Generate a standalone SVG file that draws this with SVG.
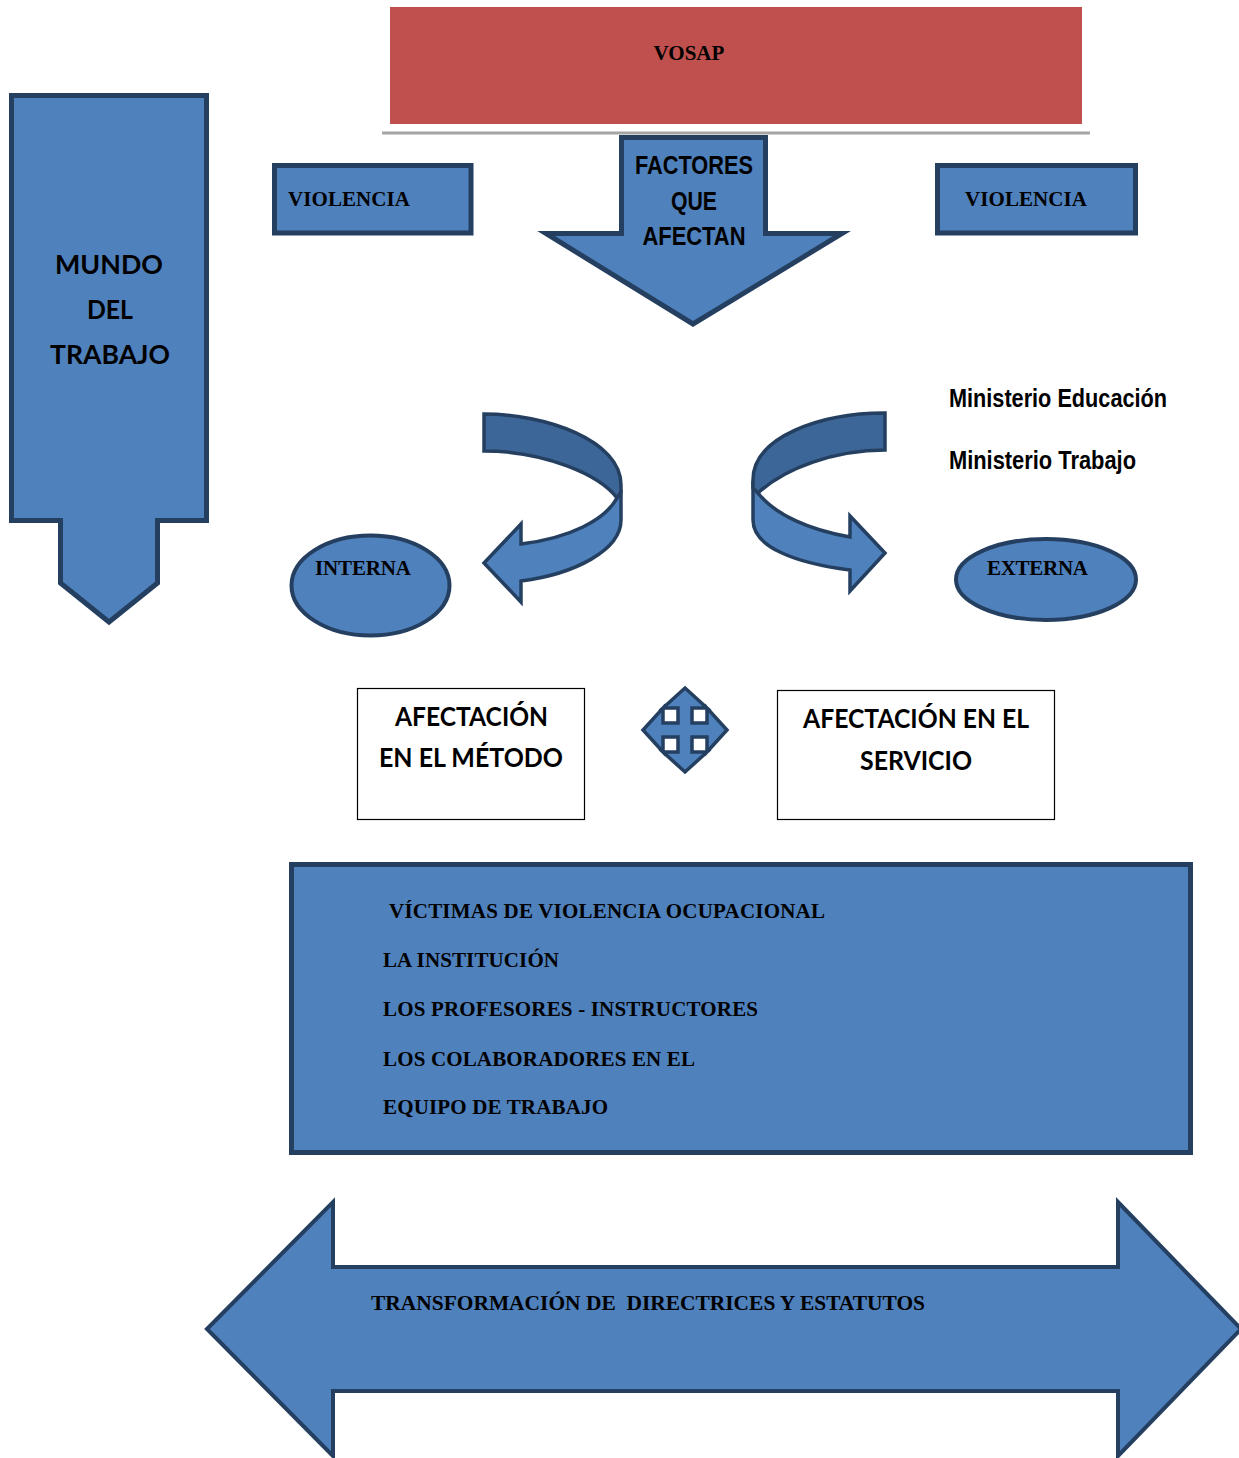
<svg xmlns="http://www.w3.org/2000/svg" width="1239" height="1458" viewBox="0 0 1239 1458">
<style>
.blue{fill:#4F81BD;stroke:#243F60;stroke-width:5;stroke-linejoin:miter}
.thin{stroke-width:4}
.dark{fill:#3D6698;stroke:#243F60;stroke-width:3.5;stroke-linejoin:miter}
.rib{fill:#4F81BD;stroke:#243F60;stroke-width:3.5;stroke-linejoin:miter}
.wbox{fill:#FFFFFF;stroke:#000000;stroke-width:1.2}
.tb{font-family:"Liberation Serif","Times New Roman",serif;font-weight:bold;font-size:21px;fill:#000}
.nar{font-family:"Liberation Sans Narrow","Liberation Sans",Arial,sans-serif;font-stretch:condensed;font-weight:bold;font-size:26px;fill:#000}
.cal{font-family:Lato,"Open Sans","Liberation Sans",sans-serif;font-weight:bold;font-size:26px;fill:#000}
</style>
<rect width="1239" height="1458" fill="#FFFFFF"/>

<g id="vosap">
<rect x="390" y="7" width="692" height="117" fill="#C0504D"/>
<line x1="382" y1="133" x2="1090" y2="133" stroke="#A5A5A5" stroke-width="3"/>
<text class="tb" x="689" y="60" text-anchor="middle">VOSAP</text>
</g>

<g id="mundo-del-trabajo">
<path class="blue" d="M11.5,95.5 L206.5,95.5 L206.5,520.5 L157.5,520.5 L157.5,583 L109,622 L60.5,583 L60.5,520.5 L11.5,520.5 Z"/>
<text class="cal" x="109" y="274" font-size="28" text-anchor="middle" textLength="108" lengthAdjust="spacingAndGlyphs">MUNDO</text>
<text class="cal" x="110" y="319" font-size="28" text-anchor="middle" textLength="46" lengthAdjust="spacingAndGlyphs">DEL</text>
<text class="cal" x="110" y="364" font-size="28" text-anchor="middle" textLength="120" lengthAdjust="spacingAndGlyphs">TRABAJO</text>
</g>

<g id="violencia-left">
<rect class="blue" x="274.5" y="165.5" width="196.5" height="67.5"/>
<text class="tb" x="288" y="206" textLength="122">VIOLENCIA</text>
</g>

<g id="violencia-right">
<rect class="blue" x="937.5" y="165.5" width="198" height="67.5"/>
<text class="tb" x="965" y="206" textLength="122">VIOLENCIA</text>
</g>

<g id="factores">
<path class="blue" d="M621.5,137.5 L765.5,137.5 L765.5,233.5 L842,233.5 L693,324 L546,233.5 L621.5,233.5 Z"/>
<text class="nar" x="694" y="174" text-anchor="middle" textLength="118" lengthAdjust="spacingAndGlyphs">FACTORES</text>
<text class="nar" x="694" y="210" text-anchor="middle" textLength="46" lengthAdjust="spacingAndGlyphs">QUE</text>
<text class="nar" x="694" y="245" text-anchor="middle" textLength="103" lengthAdjust="spacingAndGlyphs">AFECTAN</text>
</g>

<g id="ministerios">
<text class="nar" x="949" y="407" font-size="25" textLength="218" lengthAdjust="spacingAndGlyphs">Ministerio Educación</text>
<text class="nar" x="949" y="469" font-size="25" textLength="187" lengthAdjust="spacingAndGlyphs">Ministerio Trabajo</text>
</g>

<g id="interna">
<ellipse class="blue thin" cx="370.5" cy="585.5" rx="79" ry="50"/>
<text class="tb" x="315" y="575" textLength="96">INTERNA</text>
</g>

<g id="externa">
<ellipse class="blue thin" cx="1046" cy="579.5" rx="90" ry="40.5"/>
<text class="tb" x="987" y="575" textLength="101">EXTERNA</text>
</g>

<g id="afectacion-metodo">
<rect class="wbox" x="357.5" y="688.5" width="227" height="131"/>
<text class="cal" x="471.5" y="726" text-anchor="middle" textLength="153" lengthAdjust="spacingAndGlyphs">AFECTACIÓN</text>
<text class="cal" x="471" y="767" text-anchor="middle" textLength="184" lengthAdjust="spacingAndGlyphs">EN EL MÉTODO</text>
</g>

<g id="afectacion-servicio">
<rect class="wbox" x="777.5" y="690.5" width="277" height="129"/>
<text class="cal" x="916" y="728" text-anchor="middle" textLength="226" lengthAdjust="spacingAndGlyphs">AFECTACIÓN EN EL</text>
<text class="cal" x="916" y="770" text-anchor="middle" textLength="112" lengthAdjust="spacingAndGlyphs">SERVICIO</text>
</g>

<g id="victimas">
<rect class="blue" x="291.5" y="864.5" width="899" height="288"/>
<text class="tb" x="389" y="918" textLength="436">VÍCTIMAS DE VIOLENCIA OCUPACIONAL</text>
<text class="tb" x="383" y="967" textLength="176">LA INSTITUCIÓN</text>
<text class="tb" x="383" y="1016" textLength="375">LOS PROFESORES - INSTRUCTORES</text>
<text class="tb" x="383" y="1066" textLength="312">LOS COLABORADORES EN EL</text>
<text class="tb" x="383" y="1114" textLength="225">EQUIPO DE TRABAJO</text>
</g>

<g id="transformacion">
<path class="blue thin" d="M207,1329 L333,1202 L333,1267 L1118,1267 L1118,1202 L1241,1329 L1118,1456 L1118,1391 L333,1391 L333,1456 Z"/>
<text class="tb" x="371" y="1310" font-size="20" xml:space="preserve" textLength="554" lengthAdjust="spacingAndGlyphs">TRANSFORMACIÓN DE  DIRECTRICES Y ESTATUTOS</text>
</g>

<g id="connectors">
<g id="curved-arrow-left">
<path class="rib" d="M617,498 C605,520 570,538 521,544 L521,524 L484,563 L521,602 L521,581 C575,574 621,550 621,520 L621,490 Z"/>
<path class="dark" d="M484,414 C545,414 621,440 621,485 L621,492 L617,498 C600,475 545,451 484,451 Z"/>
</g>
<g id="curved-arrow-right">
<path class="rib" d="M758,493 C775,515 810,530 850,537 L850,516 L885,553 L850,591 L850,570 C795,563 753,547 753,520 L753,486 Z"/>
<path class="dark" d="M885,413 C820,413 753,437 753,480 L753,488 L758,493 C785,468 835,450 885,450 Z"/>
</g>
<g id="quad-arrow">
<path class="rib" stroke-linejoin="round" d="M685,688 L707,708 L692,708 L692,723 L707,723 L707,708 L727,730 L707,752 L707,737 L692,737 L692,752 L707,752 L685,772 L663,752 L678,752 L678,737 L663,737 L663,752 L643,730 L663,708 L663,723 L678,723 L678,708 L663,708 Z"/>
</g>
</g>
</svg>
